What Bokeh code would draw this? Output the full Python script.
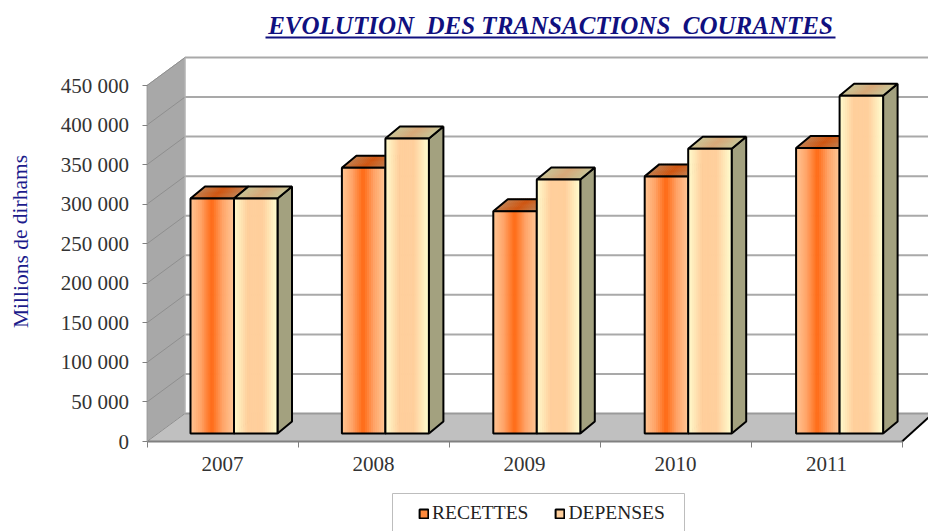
from bokeh.plotting import figure
from bokeh.embed import file_html
from bokeh.resources import INLINE
from bokeh.models import Range1d, LinearAxis, FixedTicker, Label, Legend, LegendItem

# ---- data
years = ["2007", "2008", "2009", "2010", "2011"]
recettes = [297000, 336000, 281000, 325000, 361000]
depenses = [297000, 373000, 321000, 360000, 427000]
y_ticks = [0, 50000, 100000, 150000, 200000, 250000, 300000, 350000, 400000, 450000]
y_labels = ["0", "50 000", "100 000", "150 000", "200 000", "250 000", "300 000", "350 000", "400 000", "450 000"]

# ---- layout constants (reference pixels)
W, H = 928, 531
OX, OY = 146.5, 441.0
PX_CAT = 151.0
PX_VAL = 356.0 / 450000
def rx(px): return (px - OX) / PX_CAT
def ry(py): return (OY - py) / PX_VAL

WALL_DX = 38.0 / PX_CAT
WALL_DY = 28.0 / PX_VAL
BAR_L = 43.5 / PX_CAT
BAR_W = 43.5 / PX_CAT
BAR_DX = 14.5 / PX_CAT
BAR_DY = 12.0 / PX_VAL
BASE = 8.0 / PX_VAL
BAR_PITCH = 151.4 / PX_CAT
X_END = rx(928)
N_CAT = len(years)

p = figure(width=W, height=H, output_backend="svg", toolbar_location=None,
           x_range=Range1d(rx(0), X_END), y_range=Range1d(ry(531), ry(0)),
           min_border=0, min_border_left=0, min_border_right=0, min_border_top=0, min_border_bottom=0,
           x_axis_type=None, y_axis_type=None, outline_line_color=None, background_fill_color="white")
p.xgrid.visible = False
p.ygrid.visible = False

# ---- walls and floor
top = y_ticks[-1]
p.patch([0, WALL_DX, WALL_DX, 0], [0, WALL_DY, top + WALL_DY, top], fill_color="#a8a8a8", line_color="#a8a8a8")
p.patch([0, WALL_DX, X_END, X_END, N_CAT], [0, WALL_DY, WALL_DY, WALL_DY - 4 / PX_VAL, 0],
        fill_color="#c0c0c0", line_color="#c0c0c0")
p.segment([WALL_DX] * len(y_ticks[1:]), [t + WALL_DY for t in y_ticks[1:]],
          [X_END] * len(y_ticks[1:]), [t + WALL_DY for t in y_ticks[1:]], line_color="#a9a9a9", line_width=2)
p.segment([WALL_DX], [WALL_DY], [X_END], [WALL_DY], line_color="#9a9a9a", line_width=2)
p.segment([0] * len(y_ticks), y_ticks, [WALL_DX] * len(y_ticks), [t + WALL_DY for t in y_ticks],
          line_color="#8f8f8f", line_width=1)
p.segment([WALL_DX], [WALL_DY], [WALL_DX], [top + WALL_DY], line_color="#b8b8b8", line_width=1)
p.segment([N_CAT], [0], [X_END], [WALL_DY - 4 / PX_VAL], line_color="black", line_width=2)

# ---- gradient helpers
def hexrgb(c): return tuple(int(c[i:i + 2], 16) for i in (1, 3, 5))
def ramp(stops, t):
    t = t * (len(stops) - 1)
    k = min(int(t), len(stops) - 2)
    f = t - k
    a, b = hexrgb(stops[k]), hexrgb(stops[k + 1])
    return "#%02x%02x%02x" % tuple(round(a[j] + (b[j] - a[j]) * f) for j in range(3))

REC_FACE = ["#ffc795", "#ffa468", "#ff6a14", "#ffa468", "#ffc795"]
DEP_FACE = ["#fffdcf", "#ffcf9c", "#ffcf9c", "#fffdcf"]
REC_TOP = ["#c08050", "#d05510", "#c08050"]
DEP_TOP = ["#c8c496", "#d8a878", "#c8c496"]
STRIPS = 22

def bar(x0, v, face, topc):
    y0, y1 = BASE, BASE + v
    x1 = x0 + BAR_W
    L, R, B, T, FC = [], [], [], [], []
    xs, ys, TC = [], [], []
    for k in range(STRIPS):
        a = x0 + BAR_W * k / STRIPS
        b = x0 + BAR_W * (k + 1) / STRIPS
        L.append(a); R.append(b); B.append(y0); T.append(y1)
        FC.append(ramp(face, (k + .5) / STRIPS))
        xs.append([a, b, b + BAR_DX, a + BAR_DX])
        ys.append([y1, y1, y1 + BAR_DY, y1 + BAR_DY])
        TC.append(ramp(topc, (k + .5) / STRIPS))
    # side
    p.patch([x1, x1 + BAR_DX, x1 + BAR_DX, x1], [y0, y0 + BAR_DY, y1 + BAR_DY, y1],
            fill_color="#a3a17f", line_color="black", line_width=2)
    p.patches(xs, ys, fill_color=TC, line_color=TC, line_width=1)
    p.patch([x0, x1, x1 + BAR_DX, x0 + BAR_DX], [y1, y1, y1 + BAR_DY, y1 + BAR_DY],
            fill_color=None, line_color="black", line_width=2)
    p.quad(left=L, right=R, bottom=B, top=T, fill_color=FC, line_color=FC, line_width=1)
    p.quad(left=[x0], right=[x1], bottom=[y0], top=[y1], fill_color=None, line_color="black", line_width=2)

for i in range(N_CAT):
    bar(i * BAR_PITCH + BAR_L, recettes[i], REC_FACE, REC_TOP)
    bar(i * BAR_PITCH + BAR_L + BAR_W, depenses[i], DEP_FACE, DEP_TOP)

# ---- axes
yax = LinearAxis(ticker=FixedTicker(ticks=y_ticks), fixed_location=0, bounds=(0, top),
                 major_label_overrides={t: s for t, s in zip(y_ticks, y_labels)},
                 major_tick_in=0, major_tick_out=5, minor_tick_out=0, minor_tick_in=0,
                 major_tick_line_color="#808080", axis_line_color="#a0a0a0",
                 major_label_text_font="Liberation Serif", major_label_text_font_size="21px",
                 major_label_text_color="#333333", major_label_standoff=13)
p.add_layout(yax, "left")

xax = LinearAxis(ticker=FixedTicker(ticks=list(range(N_CAT + 1))), fixed_location=0, bounds=(0, N_CAT),
                 major_label_text_font_size="0px", major_tick_in=0, major_tick_out=6,
                 minor_tick_out=0, minor_tick_in=0, major_tick_line_color="#808080",
                 axis_line_color="#808080", axis_line_width=2,
                 major_label_overrides={i: "" for i in range(N_CAT + 1)})
p.add_layout(xax, "below")

cat_ticks = [i + 0.5 for i in range(N_CAT)]
xlab = LinearAxis(ticker=FixedTicker(ticks=cat_ticks), fixed_location=0,
                  major_label_overrides={t: s for t, s in zip(cat_ticks, years)},
                  major_tick_in=0, major_tick_out=0, minor_tick_in=0, minor_tick_out=0,
                  axis_line_color=None, major_tick_line_color=None,
                  major_label_text_font="Liberation Serif", major_label_text_font_size="21px",
                  major_label_text_color="#333333", major_label_standoff=15)
p.add_layout(xlab, "below")

# ---- titles
p.add_layout(Label(x=rx(550), y=ry(25), text="EVOLUTION\u00a0 DES TRANSACTIONS\u00a0 COURANTES",
                   text_font="Liberation Serif", text_font_size="25px", text_font_style="bold italic",
                   text_color="#10107f", text_align="center", text_baseline="middle"))
p.line([rx(265), rx(835)], [ry(37), ry(37)], line_color="#10107f", line_width=2)
p.add_layout(Label(x=rx(20), y=ry(241), text="Millions de dirhams", angle=1.5708,
                   text_font="Liberation Serif", text_font_size="21.5px", text_color="#1c1c8c",
                   text_align="center", text_baseline="middle"))

# ---- legend
p.quad(left=[rx(392)], right=[rx(684)], bottom=[ry(540)], top=[ry(493)],
       fill_color="white", line_color="#bdbdbd", line_width=1)
nan = float("nan")
r1 = p.quad(left=[nan], right=[nan], bottom=[nan], top=[nan], fill_color="#ff8a3c", line_color="black", line_width=2)
r2 = p.quad(left=[nan], right=[nan], bottom=[nan], top=[nan], fill_color="#ffcf9c", line_color="black", line_width=2)
legend = Legend(items=[LegendItem(label="RECETTES", renderers=[r1]), LegendItem(label="DEPENSES", renderers=[r2])],
                orientation="horizontal", location=(418, 7), margin=0, padding=0, spacing=26,
                glyph_width=11, glyph_height=11, label_standoff=3, label_height=20,
                label_text_font="Liberation Serif", label_text_font_size="19.5px", label_text_color="#222222",
                border_line_color=None, background_fill_alpha=0)
p.add_layout(legend, "center")

open("out.html", "w").write(file_html(p, INLINE))
